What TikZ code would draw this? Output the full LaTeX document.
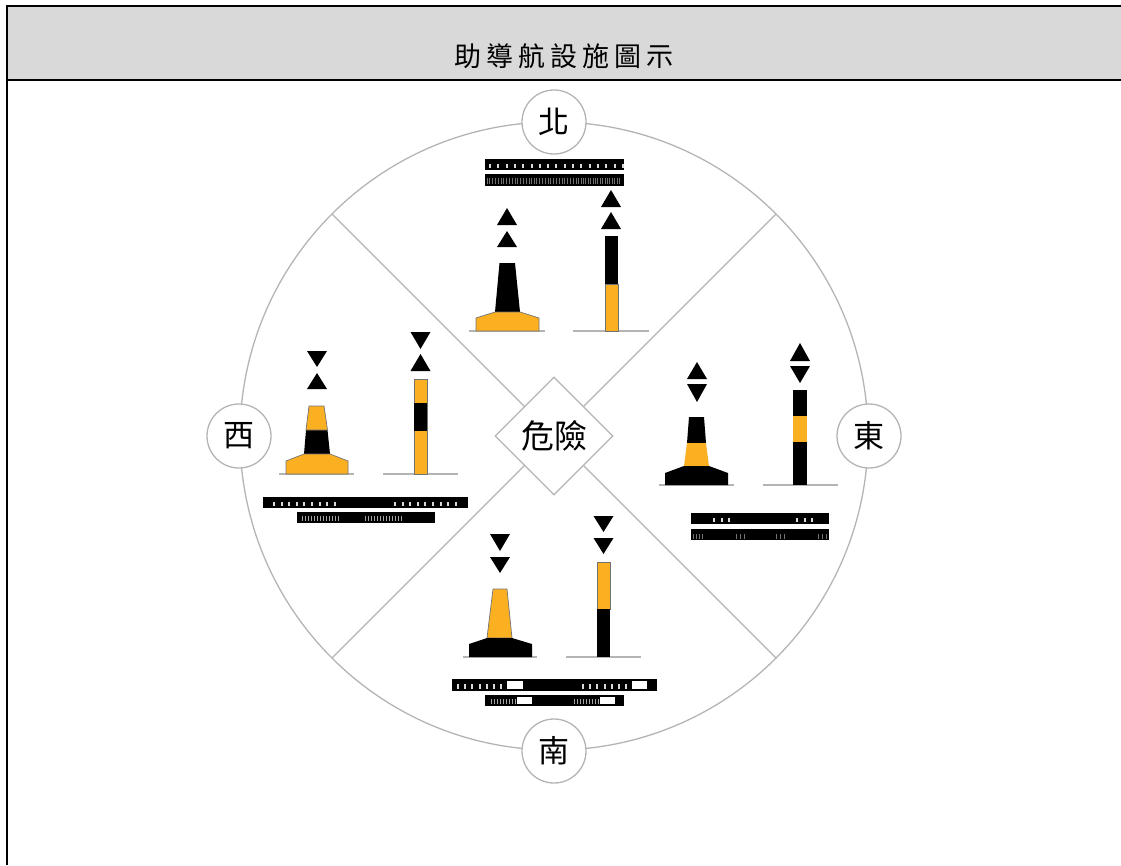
\documentclass[tikz,border=0pt]{standalone}
\usepackage{fontspec}
\newfontfamily\cjkfont{Noto Sans CJK TC}
\newfontfamily\titlefont[LetterSpace=18]{Noto Sans CJK TC}
\usetikzlibrary{positioning,shapes.geometric}
\definecolor{buoyyellow}{HTML}{FBB022}
\definecolor{headgray}{HTML}{D9D9D9}
\definecolor{ringgray}{HTML}{B4B4B4}
\tikzset{
  ringline/.style={draw=ringgray,line width=1.3pt},
  compass/.style={circle,ringline,fill=white,minimum size=64pt,inner sep=0pt,font=\cjkfont\fontsize{31}{31}\selectfont},
  danger/.style={diamond,ringline,fill=white,minimum size=118pt,inner sep=0pt,font=\cjkfont\fontsize{33}{33}\selectfont},
  title/.style={inner sep=0pt,font=\titlefont\fontsize{27}{27}\selectfont},
  ground/.style={draw=ringgray,line width=1.2pt},
  hull/.style={draw=black!55,line width=0.7pt},
  tick/.style={draw=white!85!black,line width=2pt},
  finetick/.style={draw=black!55,line width=0.9pt}
}
% triangle marks: x, y of the flat side, y of the apex
\newcommand{\daymark}[3]{\fill (#1-10,#2) -- (#1+10,#2) -- (#1,#3) -- cycle;}
\begin{document}
\begin{tikzpicture}[x=1pt,y=-1pt]
\useasboundingbox (0,0) rectangle (1121,865);
%table head
\fill[headgray] (7,6) rectangle (1121,80);
\draw[line width=2pt] (1121,6) -- (7,6) -- (7,865);
\draw[line width=2pt] (7,80) -- (1121,80);
\node[title] (head) at (564,56) {助導航設施圖示};
%ring and dividers
\coordinate (hub) at (554,436);
\coordinate (nw) at (332,214);
\coordinate (ne) at (776,214);
\coordinate (sw) at (332,658);
\coordinate (se) at (776,658);
\draw[ringline] (hub) circle (314pt);
\draw[ringline] (nw) -- (se);
\draw[ringline] (ne) -- (sw);
\node[danger] (core) at (hub) {危險};
\node[compass] (north) at (554,122) {北};
\node[compass] (south) at (554,751) {南};
\node[compass] (west) at (239,436) {西};
\node[compass] (east) at (869,436) {東};
%north marks
\draw[ground] (469,331) -- (545,331);
\draw[ground] (573,331) -- (649,331);
\fill (495,312) -- (499.5,263) -- (515,263) -- (520,312) -- cycle;
\filldraw[hull,fill=buoyyellow] (476,331) -- (476,318) -- (495,312) -- (520,312) -- (539,318) -- (539,331) -- cycle;
\daymark{507}{225}{208}
\daymark{507}{247}{231}
\fill (605,236) rectangle (618,284);
\filldraw[hull,fill=buoyyellow] (605,284) rectangle (618,331);
\daymark{611}{207}{190}
\daymark{611}{229}{212}
\fill (485,159) rectangle (624,170);
\fill (485,174) rectangle (624,186);
\foreach \x in {0,...,16} {
  \draw[tick] (490+8.3*\x,164) -- (490+8.3*\x,168);
  \draw[finetick] (487+2.8*\x,178) -- (487+2.8*\x,184);
  \draw[finetick] (534+2.8*\x,178) -- (534+2.8*\x,184);
  \draw[finetick] (581+2.4*\x,178) -- (581+2.4*\x,184);
}
%west marks
\draw[ground] (279,474) -- (354,474);
\draw[ground] (383,474) -- (458,474);
\fill (304,454) -- (306,430) -- (327.5,430) -- (330,454) -- cycle;
\filldraw[hull,fill=buoyyellow] (306,430) -- (309,406) -- (324,406) -- (327.5,430) -- cycle;
\filldraw[hull,fill=buoyyellow] (286,474) -- (286,461) -- (304,454) -- (330,454) -- (348,461) -- (348,474) -- cycle;
\daymark{317}{351}{367}
\daymark{317}{389}{373}
\filldraw[hull,fill=buoyyellow] (414,379) rectangle (427,474);
\fill (414,403) rectangle (427,431);
\daymark{420.5}{332}{349}
\daymark{420.5}{371}{354}
\fill (263,497) rectangle (468,508);
\fill (297,512) rectangle (435,523);
\foreach \x in {0,...,8} {
  \draw[tick] (274+7.6*\x,502) -- (274+7.6*\x,506);
  \draw[tick] (395+7.6*\x,502) -- (395+7.6*\x,506);
}
\foreach \x in {0,...,12} {
  \draw[finetick,draw=black!35] (302+3*\x,516) -- (302+3*\x,521);
  \draw[finetick,draw=black!35] (365+3*\x,516) -- (365+3*\x,521);
}
%east marks
\draw[ground] (659,485) -- (734,485);
\draw[ground] (763,485) -- (838,485);
\fill (689,417) -- (704,417) -- (706,443) -- (687,443) -- cycle;
\fill[buoyyellow] (687,443) -- (706,443) -- (709,466) -- (684,466) -- cycle;
\fill (665,485) -- (665,473) -- (684,466) -- (709,466) -- (728,473) -- (728,485) -- cycle;
\daymark{697}{379}{362}
\daymark{697}{384}{402}
\fill (793,390) rectangle (807,485);
\fill[buoyyellow] (793,416) rectangle (807,442);
\daymark{800}{361}{343}
\daymark{800}{366}{383}
\fill (691,513) rectangle (829,524);
\fill (691,529) rectangle (829,540);
\foreach \x in {0,1,2} {
  \draw[tick] (714+7.5*\x,518) -- (714+7.5*\x,522);
  \draw[tick] (797+7.5*\x,518) -- (797+7.5*\x,522);
}
\foreach \x in {693,696,699,702,736,740,744,776,780,784,818,822,826} {
  \draw[finetick] (\x,534) -- (\x,539);
}
%south marks
\draw[ground] (463,657) -- (537,657);
\draw[ground] (566,657) -- (641,657);
\filldraw[hull,fill=buoyyellow] (487,638) -- (493,589) -- (507,589) -- (512,638) -- cycle;
\fill (469,657) -- (469,644) -- (487,638) -- (512,638) -- (532,644) -- (532,657) -- cycle;
\daymark{500}{534}{551}
\daymark{500}{557}{573}
\filldraw[hull,fill=buoyyellow] (597,562) rectangle (610,609);
\fill (597,609) rectangle (610,657);
\daymark{603.5}{516}{532}
\daymark{603.5}{538}{554}
\fill (452,679) rectangle (657,691);
\fill (485,695) rectangle (624,706);
\fill[white] (507,681) rectangle (523,689);
\fill[white] (632,681) rectangle (647,689);
\fill[white] (517,697) rectangle (532,704);
\fill[white] (600,697) rectangle (615,704);
\foreach \x in {0,...,6} {
  \draw[tick] (458+7.2*\x,684) -- (458+7.2*\x,689);
  \draw[tick] (583+7.2*\x,684) -- (583+7.2*\x,689);
}
\foreach \x in {0,...,8} {
  \draw[finetick,draw=black!35] (491+3*\x,699) -- (491+3*\x,704);
  \draw[finetick,draw=black!35] (574+3*\x,699) -- (574+3*\x,704);
}
\end{tikzpicture}
\end{document}
